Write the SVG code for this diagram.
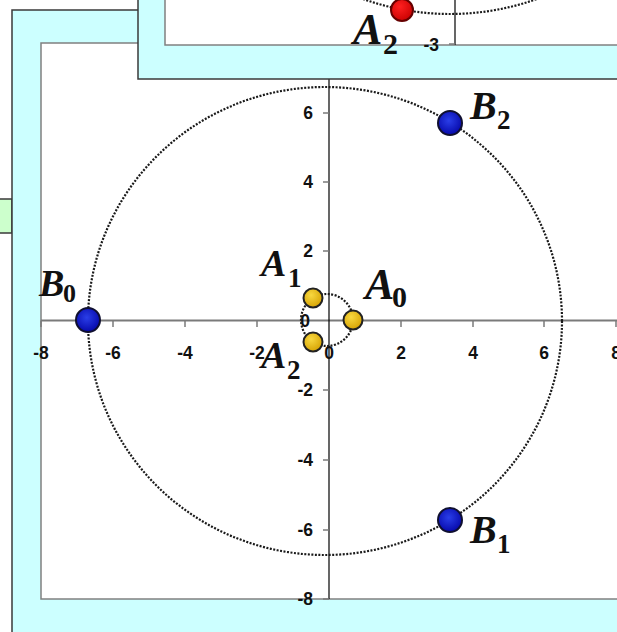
<svg xmlns="http://www.w3.org/2000/svg" width="617" height="632" viewBox="0 0 617 632">
<defs>
<radialGradient id="gGold" cx="0.4" cy="0.35" r="0.7">
<stop offset="0" stop-color="#f8d840"/>
<stop offset="1" stop-color="#d4a000"/>
</radialGradient>
<radialGradient id="gBlue" cx="0.45" cy="0.4" r="0.7">
<stop offset="0" stop-color="#2a3ee8"/>
<stop offset="1" stop-color="#0000a0"/>
</radialGradient>
<radialGradient id="gRed" cx="0.4" cy="0.35" r="0.7">
<stop offset="0" stop-color="#ff2020"/>
<stop offset="1" stop-color="#c80000"/>
</radialGradient>
<style>
.frame{fill:#ccffff;stroke:#3a3a3a;stroke-width:1.5}
.plot{fill:#ffffff;stroke:#808080;stroke-width:1.5}
.xaxis{stroke:#7a7a7a;stroke-width:2;fill:none}
.yaxis{stroke:#000;stroke-width:1.2;fill:none}
.tick{stroke:#7a7a7a;stroke-width:1.5}
.dotted{fill:none;stroke:#1a1a1a;stroke-width:2.2;stroke-dasharray:2 1.5}
.num{font-family:"Liberation Sans",Arial,sans-serif;font-weight:bold;font-size:17.5px;fill:#111}
.lab{font-family:"Liberation Serif","Times New Roman",serif;font-weight:bold;font-style:italic;fill:#111}
.sub{font-family:"Liberation Serif","Times New Roman",serif;font-weight:bold;fill:#111}
.ptA{fill:url(#gGold);stroke:#222;stroke-width:2}
.ptB{fill:url(#gBlue);stroke:#101030;stroke-width:2}
.ptR{fill:url(#gRed);stroke:#600;stroke-width:2}
</style>
</defs>

<g id="green-box">
<rect x="-4" y="199" width="16" height="34" fill="#ccffcc" stroke="#3a3a3a" stroke-width="1.5"/>
</g>

<g id="main-panel">
<rect class="frame" x="12" y="10" width="640" height="660"/>
<rect class="plot" x="41" y="43" width="620" height="556"/>
</g>

<g id="main-axes">
<line class="xaxis" x1="41" y1="320.5" x2="617" y2="320.5"/>
<line class="yaxis" x1="329" y1="43" x2="329" y2="599"/>
<g class="tick">
<line x1="41" y1="320.5" x2="41" y2="327"/>
<line x1="113" y1="320.5" x2="113" y2="327"/>
<line x1="185" y1="320.5" x2="185" y2="327"/>
<line x1="257" y1="320.5" x2="257" y2="327"/>
<line x1="401" y1="320.5" x2="401" y2="327"/>
<line x1="473" y1="320.5" x2="473" y2="327"/>
<line x1="544" y1="320.5" x2="544" y2="327"/>
<line x1="616" y1="320.5" x2="616" y2="327"/>
<line x1="323" y1="113" x2="329" y2="113"/>
<line x1="323" y1="182" x2="329" y2="182"/>
<line x1="323" y1="251" x2="329" y2="251"/>
<line x1="323" y1="390" x2="329" y2="390"/>
<line x1="323" y1="460" x2="329" y2="460"/>
<line x1="323" y1="530" x2="329" y2="530"/>
<line x1="323" y1="599" x2="329" y2="599"/>
</g>
<g class="num" text-anchor="middle">
<text x="41" y="359">-8</text>
<text x="113" y="359">-6</text>
<text x="185" y="359">-4</text>
<text x="257" y="359">-2</text>
<text x="329" y="359">0</text>
<text x="401" y="359">2</text>
<text x="473" y="359">4</text>
<text x="544" y="359">6</text>
<text x="616" y="359">8</text>
</g>
<g class="num" text-anchor="end">
<text x="313" y="119">6</text>
<text x="313" y="188">4</text>
<text x="313" y="257">2</text>
<text x="310" y="327">0</text>
<text x="313" y="396">-2</text>
<text x="313" y="466">-4</text>
<text x="313" y="536">-6</text>
<text x="313" y="605">-8</text>
</g>
</g>

<g id="circles">
<ellipse class="dotted" cx="325" cy="321" rx="237" ry="234"/>
<circle class="dotted" cx="327" cy="320" r="26"/>
</g>

<g id="A0"><circle class="ptA" cx="353" cy="320" r="9.5"/>
<text class="lab" x="365" y="299" font-size="44">A</text><text class="sub" x="392" y="307" font-size="30">0</text></g>
<g id="A1"><circle class="ptA" cx="313" cy="298" r="9.5"/>
<text class="lab" x="261" y="276" font-size="38">A</text><text class="sub" x="288" y="287" font-size="27">1</text></g>
<g id="A2"><circle class="ptA" cx="313" cy="342" r="9.5"/>
<text class="lab" x="261" y="368" font-size="38">A</text><text class="sub" x="287" y="379" font-size="27">2</text></g>
<g id="B0"><circle class="ptB" cx="88" cy="320" r="12"/>
<text class="lab" x="39" y="296" font-size="38">B</text><text class="sub" x="63" y="302" font-size="26">0</text></g>
<g id="B1"><circle class="ptB" cx="450" cy="520" r="12"/>
<text class="lab" x="470" y="543" font-size="40">B</text><text class="sub" x="497" y="553" font-size="27">1</text></g>
<g id="B2"><circle class="ptB" cx="450" cy="123" r="12"/>
<text class="lab" x="470" y="119" font-size="40">B</text><text class="sub" x="497" y="129" font-size="27">2</text></g>

<g id="upper-panel">
<rect class="frame" x="138" y="-20" width="520" height="99"/>
<rect class="plot" x="165" y="-20" width="500" height="65"/>
<line class="yaxis" x1="455" y1="-5" x2="455" y2="45"/>
<line class="tick" x1="449" y1="44" x2="455" y2="44"/>
<text class="num" x="439" y="51" text-anchor="end">-3</text>
<circle class="dotted" cx="450" cy="-245" r="259"/>
</g>
<g id="A2-upper"><circle class="ptR" cx="402" cy="10" r="11"/>
<text class="lab" x="353" y="44" font-size="44">A</text><text class="sub" x="383" y="54" font-size="30">2</text></g>
</svg>
